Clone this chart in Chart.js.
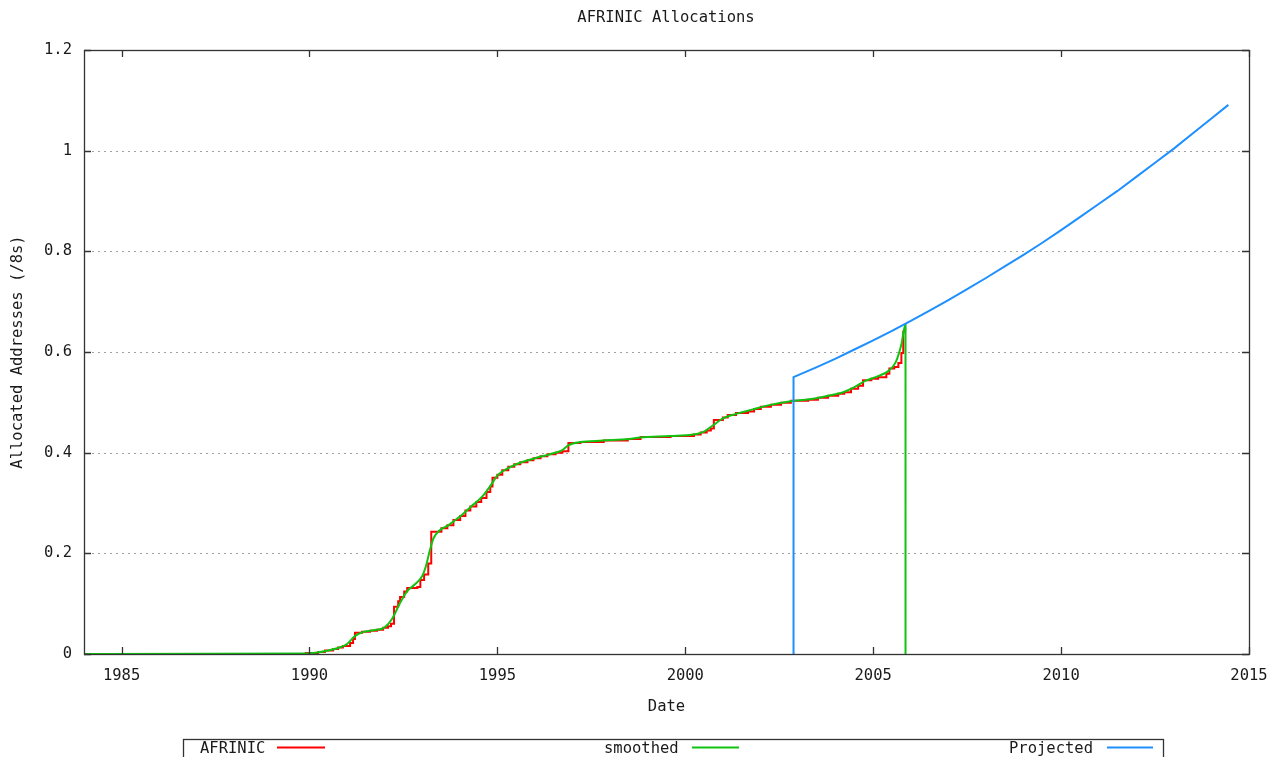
<!DOCTYPE html>
<html>
<head>
<meta charset="utf-8">
<script src="https://cdn.jsdelivr.net/npm/chart.js@4/dist/chart.umd.min.js"></script>
<style>
html,body{margin:0;padding:0;background:#fff;}
canvas{display:block;}
</style>
</head>
<body>
<canvas id="c" width="1286" height="757"></canvas>
<script>
const chartTitle = "AFRINIC Allocations";
const xTitle = "Date";
const yTitle = "Allocated Addresses (/8s)";
const xTicks = [1985, 1990, 1995, 2000, 2005, 2010, 2015];
const yTicks = [0, 0.2, 0.4, 0.6, 0.8, 1, 1.2];
const yTickLabels = ["0", "0.2", "0.4", "0.6", "0.8", "1", "1.2"];
const seriesNames = ["AFRINIC", "smoothed", "Projected"];

// AFRINIC (stepped cumulative)
const afrinicYears = [1984.0,1989.9,1990.23,1990.41,1990.63,1990.76,1990.89,1991.08,1991.16,1991.21,1991.40,1991.61,1991.80,1991.96,1992.09,1992.17,1992.25,1992.36,1992.41,1992.52,1992.60,1992.87,1992.95,1993.05,1993.16,1993.24,1993.51,1993.67,1993.83,1994.01,1994.15,1994.28,1994.44,1994.57,1994.71,1994.81,1994.87,1995.00,1995.13,1995.29,1995.45,1995.61,1995.80,1995.96,1996.15,1996.33,1996.55,1996.73,1996.89,1997.21,1997.83,1998.47,1998.81,1999.61,2000.23,2000.41,2000.57,2000.68,2000.76,2001.00,2001.13,2001.35,2001.67,2001.83,2002.01,2002.28,2002.55,2002.81,2003.27,2003.53,2003.80,2004.07,2004.23,2004.41,2004.60,2004.73,2004.95,2005.13,2005.35,2005.43,2005.56,2005.67,2005.75,2005.80,2005.85];
const afrinicValues = [0,0.002,0.004,0.007,0.010,0.013,0.016,0.022,0.030,0.042,0.044,0.046,0.048,0.052,0.055,0.060,0.094,0.105,0.113,0.124,0.131,0.133,0.147,0.158,0.180,0.243,0.250,0.256,0.266,0.274,0.285,0.293,0.302,0.310,0.322,0.333,0.350,0.356,0.365,0.372,0.377,0.381,0.385,0.389,0.393,0.397,0.400,0.403,0.419,0.421,0.424,0.427,0.431,0.433,0.436,0.440,0.444,0.448,0.465,0.470,0.475,0.479,0.482,0.487,0.491,0.495,0.499,0.503,0.505,0.509,0.513,0.517,0.520,0.527,0.533,0.544,0.547,0.550,0.557,0.567,0.570,0.578,0.598,0.640,0.650];

// smoothed
const smoothYears = [1984.0,1989.9,1990.2,1990.5,1990.8,1991.0,1991.2,1991.4,1991.7,1992.0,1992.2,1992.4,1992.6,1992.8,1993.0,1993.1,1993.2,1993.3,1993.45,1993.7,1994.0,1994.3,1994.6,1994.85,1995.0,1995.3,1995.6,1996.0,1996.4,1996.7,1996.9,1997.2,1997.8,1998.5,1998.8,1999.6,2000.2,2000.5,2000.75,2001.0,2001.4,2001.8,2002.2,2002.8,2003.3,2003.8,2004.2,2004.5,2004.8,2005.1,2005.4,2005.6,2005.75,2005.86,2005.86];
const smoothValues = [0,0.001,0.003,0.007,0.013,0.020,0.035,0.043,0.047,0.053,0.070,0.100,0.125,0.138,0.155,0.175,0.205,0.230,0.245,0.256,0.273,0.293,0.313,0.338,0.355,0.370,0.380,0.389,0.397,0.404,0.415,0.421,0.424,0.427,0.430,0.433,0.436,0.442,0.455,0.468,0.478,0.486,0.494,0.502,0.506,0.513,0.520,0.530,0.543,0.551,0.562,0.580,0.615,0.655,0];

// projected
const projYears = [2002.88,2002.88,2003.5,2004,2004.5,2005,2005.5,2006,2006.5,2007,2007.5,2008,2008.5,2009,2009.5,2010,2010.5,2011,2011.5,2012,2012.5,2013,2013.5,2014,2014.45];
const projValues = [0,0.550,0.570,0.587,0.605,0.623,0.642,0.662,0.682,0.703,0.725,0.747,0.770,0.793,0.817,0.842,0.868,0.894,0.920,0.948,0.976,1.004,1.034,1.064,1.091];

const toPts = (xs, ys) => xs.map((x, i) => ({x: x, y: ys[i]}));

const FONT = "'DejaVu Sans Mono', 'Liberation Mono', monospace";
const TEXT = '#1a1a1a';

const frameAndGrid = {
  id: 'frameAndGrid',
  beforeDatasetsDraw(chart) {
    const {ctx, chartArea: a, scales: {x, y}} = chart;
    ctx.save();
    ctx.strokeStyle = '#a0a0a0';
    ctx.lineWidth = 1;
    ctx.setLineDash([2, 4]);
    yTicks.forEach(v => {
      if (v <= 0 || v >= 1.2) return;
      const py = Math.round(y.getPixelForValue(v)) + 0.5;
      ctx.beginPath(); ctx.moveTo(a.left + 8, py); ctx.lineTo(a.right - 8, py); ctx.stroke();
    });
    ctx.restore();
  },
  afterDatasetsDraw(chart) {
    const {ctx, chartArea: a, scales: {x, y}} = chart;
    ctx.save();
    ctx.strokeStyle = '#333';
    ctx.lineWidth = 1.3;
    ctx.setLineDash([]);
    ctx.strokeRect(a.left + 0.5, a.top + 0.5, a.right - a.left, a.bottom - a.top);
    const L = 7;
    xTicks.forEach(v => {
      const px = Math.round(x.getPixelForValue(v)) + 0.5;
      ctx.beginPath();
      ctx.moveTo(px, a.bottom); ctx.lineTo(px, a.bottom - L);
      ctx.moveTo(px, a.top); ctx.lineTo(px, a.top + L);
      ctx.stroke();
    });
    yTicks.forEach(v => {
      const py = Math.round(y.getPixelForValue(v)) + 0.5;
      ctx.beginPath();
      ctx.moveTo(a.left, py); ctx.lineTo(a.left + L, py);
      ctx.moveTo(a.right, py); ctx.lineTo(a.right - L, py);
      ctx.stroke();
    });
    ctx.restore();
  },
  afterDraw(chart) {
    const {ctx} = chart;
    ctx.save();
    ctx.fillStyle = TEXT;
    ctx.font = '15.5px ' + FONT;
    ctx.textAlign = 'center';
    ctx.textBaseline = 'middle';
    ctx.fillText(chartTitle, 666, 18);
    ctx.strokeStyle = '#333';
    ctx.lineWidth = 1.3;
    ctx.strokeRect(183.5, 739.5, 980, 40);
    const items = [
      {tx: 200, lx: 277, lw: 48},
      {tx: 604, lx: 692, lw: 47},
      {tx: 1009, lx: 1107, lw: 46}
    ];
    chart.data.datasets.forEach((ds, i) => {
      const it = items[i];
      ctx.fillStyle = TEXT;
      ctx.textAlign = 'left';
      ctx.textBaseline = 'middle';
      ctx.fillText(ds.label, it.tx, 749);
      ctx.strokeStyle = ds.borderColor;
      ctx.lineWidth = 1.8;
      ctx.beginPath();
      ctx.moveTo(it.lx, 747.5); ctx.lineTo(it.lx + it.lw, 747.5);
      ctx.stroke();
    });
    ctx.restore();
  }
};

new Chart(document.getElementById('c'), {
  type: 'line',
  data: {
    datasets: [
      {label: seriesNames[0], data: toPts(afrinicYears, afrinicValues), borderColor: '#ff0000', borderWidth: 2, stepped: true, pointRadius: 0, order: 2, fill: false},
      {label: seriesNames[1], data: toPts(smoothYears, smoothValues), borderColor: '#11c311', borderWidth: 2, cubicInterpolationMode: 'monotone', pointRadius: 0, order: 1, fill: false},
      {label: seriesNames[2], data: toPts(projYears, projValues), borderColor: '#1e8fff', borderWidth: 2, tension: 0, pointRadius: 0, order: 0, fill: false}
    ]
  },
  options: {
    responsive: false,
    animation: false,
    events: [],
    layout: {padding: {left: 0, right: 37, top: 50, bottom: 0}},
    plugins: {legend: {display: false}, title: {display: false}, tooltip: {enabled: false}},
    scales: {
      x: {
        type: 'linear', min: 1984, max: 2015,
        afterBuildTicks: s => { s.ticks = xTicks.map(v => ({value: v})); },
        afterFit: s => { s.height = 103; },
        grid: {display: false, drawTicks: false},
        border: {display: false},
        ticks: {autoSkip: false, maxRotation: 0, padding: 13, color: TEXT, font: {family: FONT, size: 15.5},
          callback: v => String(v)},
        title: {display: true, text: xTitle, color: TEXT, font: {family: FONT, size: 15.5}, padding: {top: 0, bottom: 41}}
      },
      y: {
        type: 'linear', min: 0, max: 1.2,
        afterBuildTicks: s => { s.ticks = yTicks.map(v => ({value: v})); },
        afterFit: s => { s.width = 84; },
        grid: {display: false, drawTicks: false},
        border: {display: false},
        ticks: {autoSkip: false, padding: 12, color: TEXT, font: {family: FONT, size: 15.5},
          callback: (v) => { const i = yTicks.findIndex(t => Math.abs(t - v) < 1e-9); return i >= 0 ? yTickLabels[i] : ''; }},
        title: {display: true, text: yTitle, color: TEXT, font: {family: FONT, size: 15.5}, padding: {top: 9, bottom: 0}}
      }
    }
  },
  plugins: [frameAndGrid]
});
</script>
</body>
</html>
